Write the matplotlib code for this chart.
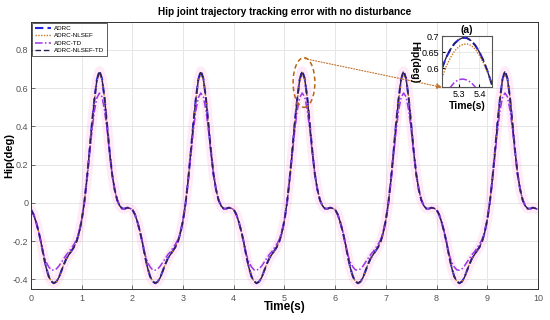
import numpy as np
import matplotlib
matplotlib.use("Agg")
import matplotlib.pyplot as plt
from matplotlib.patches import Ellipse

# ---- data (one 2 s gait cycle, sampled every 0.05 s; pattern repeats 5 times) ----
cycle_step = 0.05
n_cycles = 5
adrc_cycle = [-0.035, -0.06, -0.10, -0.15, -0.21, -0.28, -0.34, -0.385, -0.41, -0.42,
              -0.412, -0.39, -0.355, -0.32, -0.29, -0.27, -0.25, -0.23, -0.20, -0.155,
              -0.09, 0.00, 0.12, 0.26, 0.41, 0.54, 0.645, 0.69, 0.65, 0.55,
              0.41, 0.27, 0.15, 0.07, 0.015, -0.015, -0.03, -0.03, -0.025, -0.028]
nlsef_cycle = [-0.035, -0.06, -0.10, -0.15, -0.21, -0.28, -0.34, -0.385, -0.41, -0.42,
               -0.412, -0.39, -0.355, -0.32, -0.29, -0.27, -0.25, -0.23, -0.20, -0.155,
               -0.09, 0.00, 0.12, 0.26, 0.40, 0.53, 0.635, 0.675, 0.645, 0.55,
               0.41, 0.27, 0.15, 0.07, 0.015, -0.015, -0.03, -0.03, -0.025, -0.028]
td_cycle = [-0.035, -0.06, -0.10, -0.15, -0.21, -0.27, -0.31, -0.335, -0.35, -0.352,
            -0.345, -0.33, -0.31, -0.29, -0.27, -0.255, -0.235, -0.215, -0.19, -0.145,
            -0.085, 0.00, 0.11, 0.24, 0.37, 0.48, 0.55, 0.575, 0.555, 0.485,
            0.38, 0.26, 0.15, 0.07, 0.015, -0.015, -0.03, -0.03, -0.025, -0.028]
nlsef_td_cycle = [-0.035, -0.06, -0.10, -0.15, -0.21, -0.28, -0.34, -0.385, -0.41, -0.42,
                  -0.412, -0.39, -0.355, -0.32, -0.29, -0.27, -0.25, -0.23, -0.20, -0.155,
                  -0.09, 0.00, 0.12, 0.26, 0.41, 0.54, 0.645, 0.69, 0.65, 0.55,
                  0.41, 0.27, 0.15, 0.07, 0.015, -0.015, -0.03, -0.03, -0.025, -0.028]

# zoomed detail (inset (a))
inset_t = [5.22, 5.24, 5.26, 5.28, 5.30, 5.32, 5.34, 5.36, 5.38, 5.40, 5.42, 5.44, 5.46]
inset_adrc = [0.600, 0.633, 0.658, 0.677, 0.689, 0.695, 0.694, 0.686, 0.671, 0.650, 0.622, 0.588, 0.548]
inset_nlsef = [0.570, 0.605, 0.632, 0.653, 0.667, 0.674, 0.676, 0.671, 0.659, 0.640, 0.615, 0.585, 0.550]
inset_td = [0.500, 0.520, 0.540, 0.556, 0.564, 0.566, 0.563, 0.555, 0.541, 0.520, 0.500, 0.480, 0.460]
inset_nlsef_td = [0.600, 0.633, 0.658, 0.677, 0.689, 0.695, 0.694, 0.686, 0.671, 0.650, 0.622, 0.588, 0.548]

labels = ["ADRC", "ADRC-NLSEF", "ADRC-TD", "ADRC-NLSEF-TD"]
xticks = list(range(0, 11))
yticks = [-0.4, -0.2, 0, 0.2, 0.4, 0.6, 0.8]
ytick_labels = ["-0.4", "-0.2", "0", "0.2", "0.4", "0.6", "0.8"]


def full(cycle):
    return np.append(np.tile(cycle, n_cycles), cycle[0])

t = np.arange(len(adrc_cycle) * n_cycles + 1) * cycle_step

styles = [
    dict(color="#2424e6", ls=(0, (4, 2)), lw=1.5),
    dict(color="#d2781e", ls=(0, (1, 1)), lw=1.0),
    dict(color="#9d35e8", ls=(0, (5, 1.5, 1, 1.5)), lw=1.1),
    dict(color="#2a1f55", ls=(0, (4, 2)), lw=1.0),
]

plt.rcParams["font.family"] = ["Liberation Sans", "DejaVu Sans"]

fig = plt.figure(figsize=(5.5, 3.2), dpi=100)
ax = fig.add_axes([0.0564, 0.097, 0.9216, 0.834])

series = [full(adrc_cycle), full(nlsef_cycle), full(td_cycle), full(nlsef_td_cycle)]
ax.plot(t, series[0], color="#ff66cc", lw=7, alpha=0.13, solid_capstyle="round", zorder=1)
for y, lab, st in zip(series, labels, styles):
    ax.plot(t, y, label=lab, zorder=3, **st)

ax.set_xlim(0, 10)
ax.set_ylim(-0.45, 0.946)
ax.set_xticks(xticks)
ax.set_yticks(yticks)
ax.set_yticklabels(ytick_labels)
ax.grid(True, color="#e6e6e6", lw=0.7)
ax.set_axisbelow(True)
ax.tick_params(direction="in", length=3, labelsize=6.5, colors="#555555", width=0.6)
ax.tick_params(axis="y", pad=2)
for s in ax.spines.values():
    s.set_color("#333333")
    s.set_linewidth(0.7)
ax.set_title("Hip joint trajectory tracking error with no disturbance",
             fontsize=7.2, fontweight="bold", pad=5)
ax.set_xlabel("Time(s)", fontsize=8.5, fontweight="bold", labelpad=-1)
ax.set_ylabel("Hip(deg)", fontsize=8, fontweight="bold")
ax.yaxis.set_label_coords(-0.033, 0.5)

leg = ax.legend(loc="upper left", fontsize=4.5, frameon=True, fancybox=False,
                borderaxespad=0.15, handlelength=2.6, labelspacing=0.3,
                borderpad=0.45, handletextpad=0.5, edgecolor="#333333")
leg.get_frame().set_linewidth(0.7)

# ellipse around the highlighted peak and arrow towards inset
ell = Ellipse((5.385, 0.63), 0.43, 0.26, fill=False, ec="#b8650f", ls=(0, (3, 2)), lw=1.1, zorder=4)
ax.add_patch(ell)

# inset
axi = fig.add_axes([0.8036, 0.727, 0.0909, 0.160])
for y, st in zip([inset_adrc, inset_nlsef, inset_td, inset_nlsef_td], styles):
    axi.plot(inset_t, y, **st)
axi.set_xlim(5.22, 5.46)
axi.set_ylim(0.54, 0.70)
axi.set_xticks([5.3, 5.4])
axi.set_yticks([0.6, 0.65, 0.7])
axi.set_yticklabels(["0.6", "0.65", "0.7"])
axi.grid(True, color="#e6e6e6", lw=0.6)
axi.tick_params(direction="in", length=2, labelsize=6.5, pad=2)
for s in axi.spines.values():
    s.set_color("#555555")
    s.set_linewidth(0.8)
axi.set_title("(a)", fontsize=7.5, fontweight="bold", pad=2)
axi.set_xlabel("Time(s)", fontsize=7.5, fontweight="bold", labelpad=1)
axi.set_ylabel("Hip(deg)", fontsize=7.5, fontweight="bold", rotation=270, va="top")
axi.yaxis.set_label_coords(-0.46, 0.5)

ax.annotate("", xy=(0.804, 0.727), xycoords="figure fraction",
            xytext=(5.40, 0.755), textcoords="data",
            arrowprops=dict(arrowstyle="-|>", color="#c0702a", ls=(0, (1, 1.5)), lw=0.8,
                            mutation_scale=8, shrinkA=0, shrinkB=0), zorder=5)

fig.savefig("out.png", dpi=100)
